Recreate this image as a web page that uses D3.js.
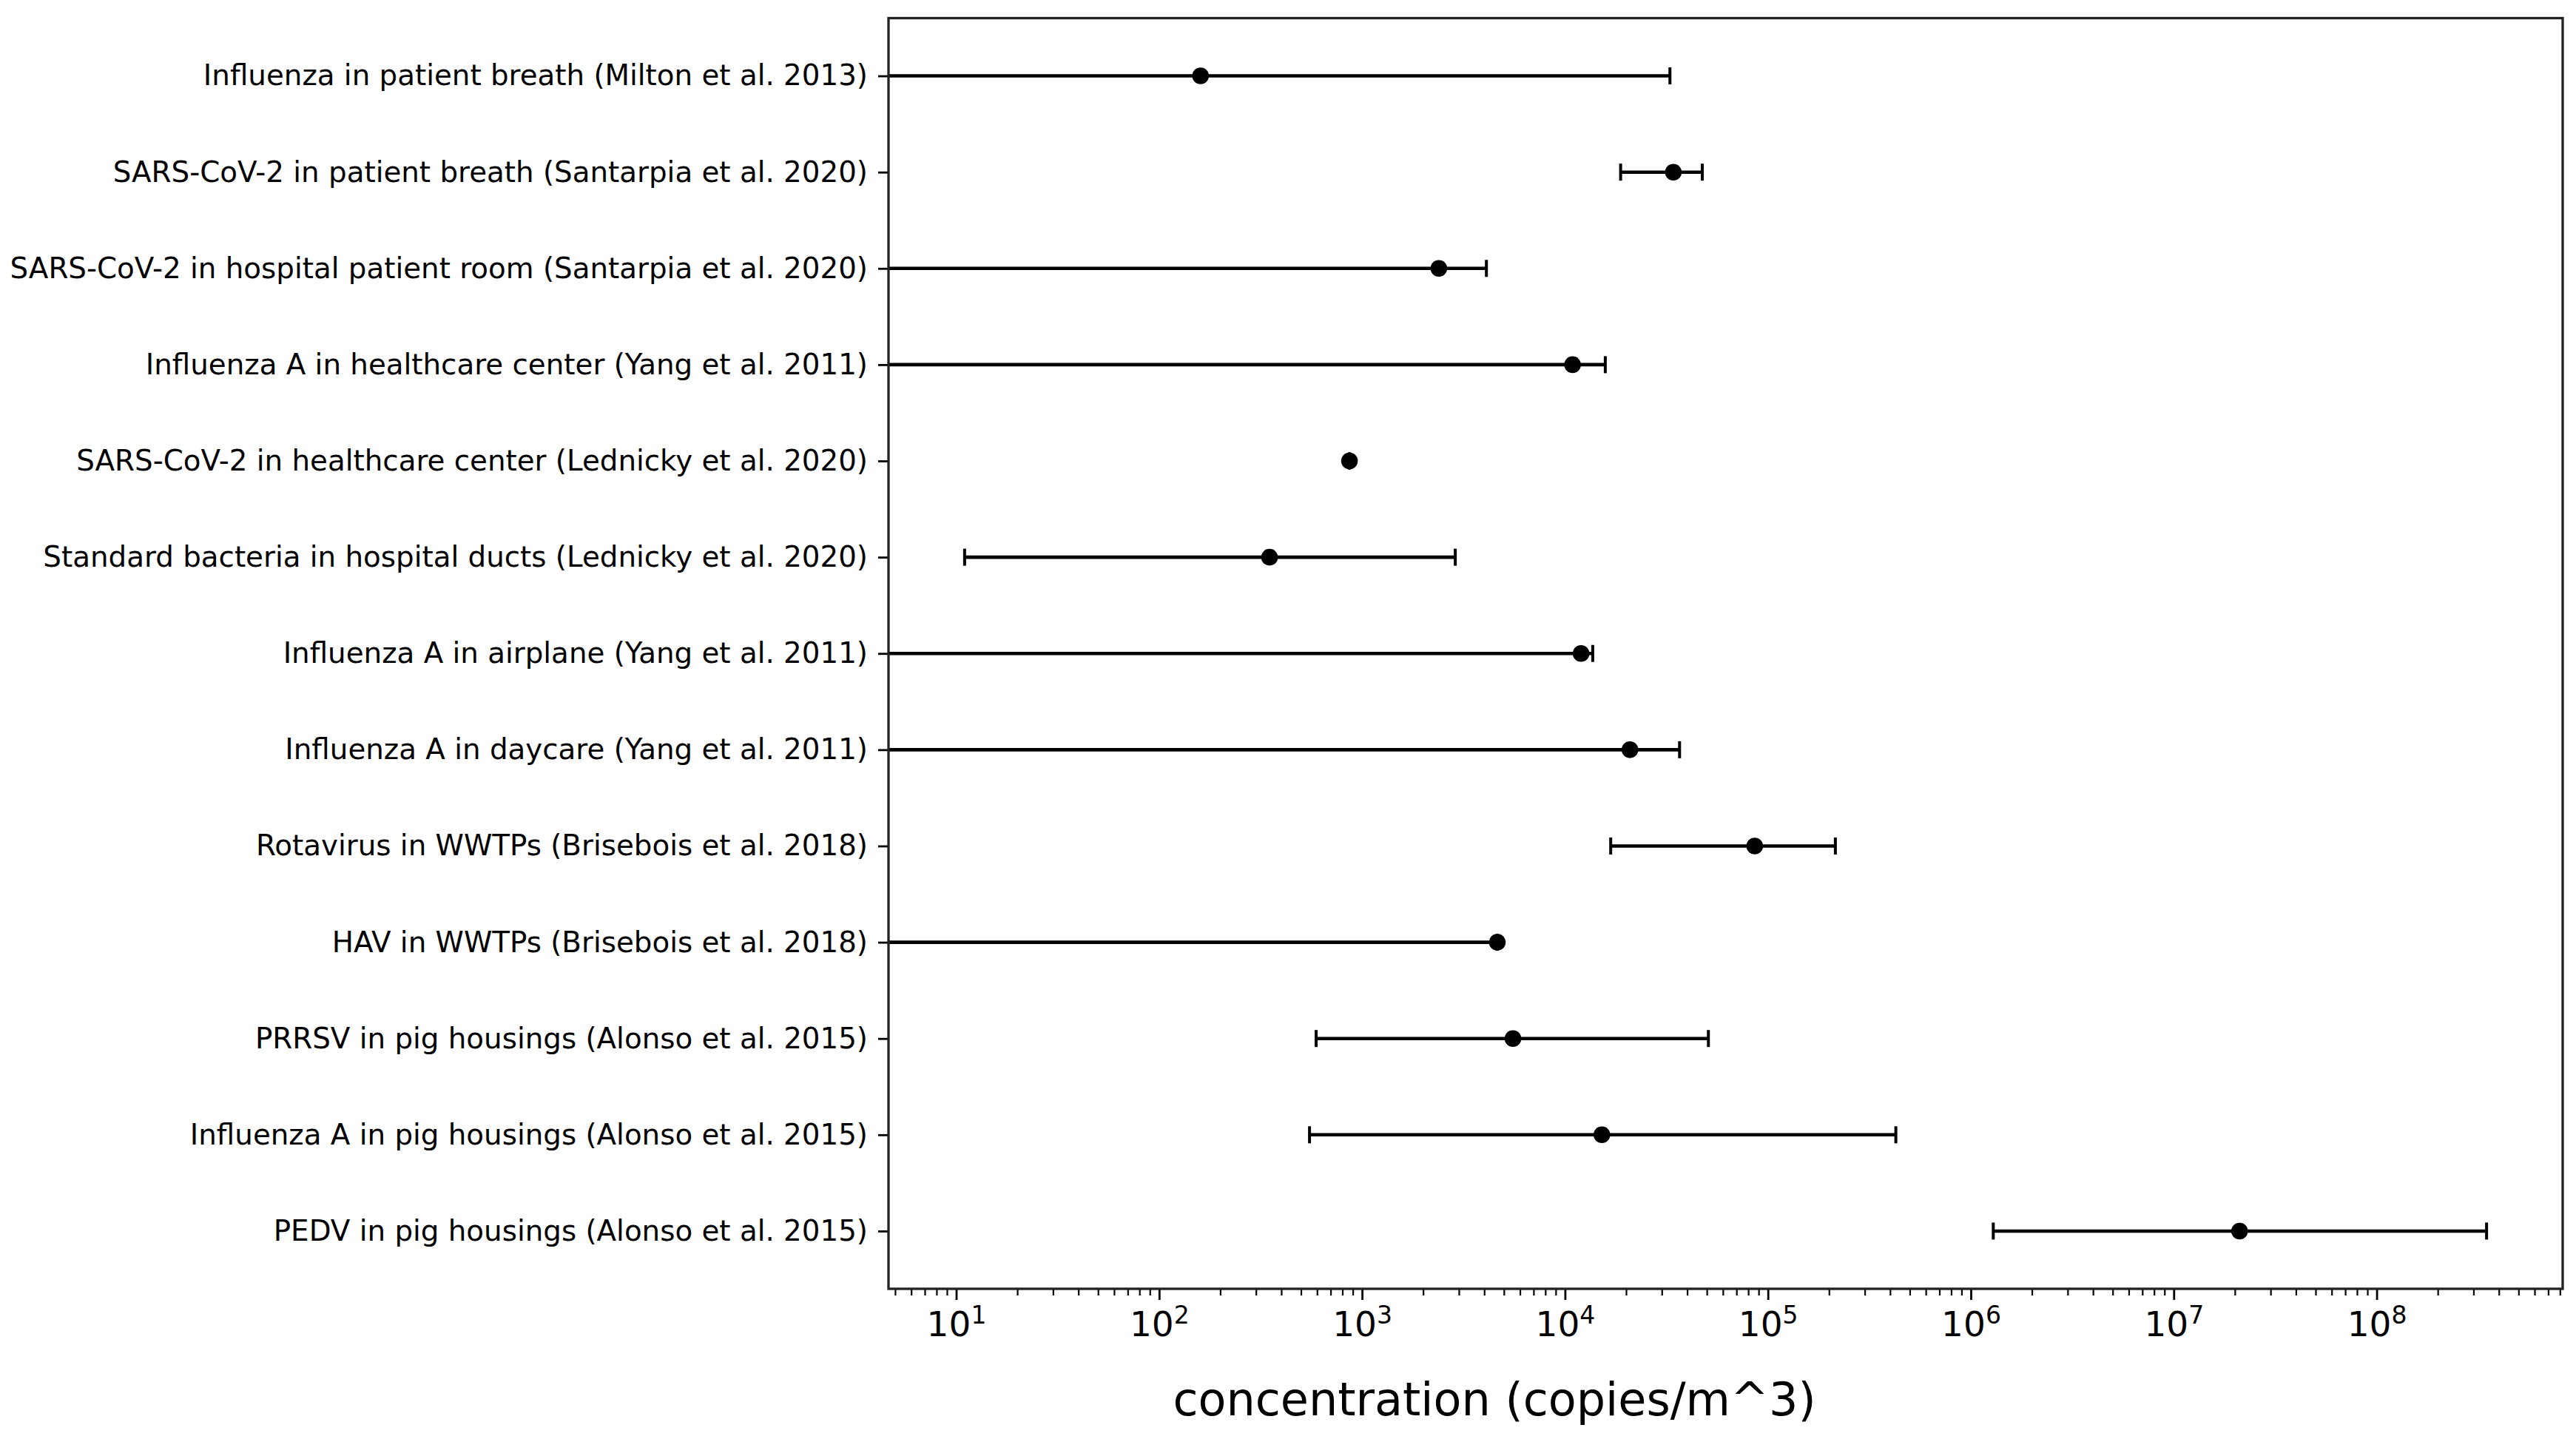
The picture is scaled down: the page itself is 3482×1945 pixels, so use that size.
<!DOCTYPE html>
<html lang="en">
	<head>
		<meta charset="UTF-8">
		<title>Airborne concentrations</title>
		<script src="https://d3js.org/d3.v7.min.js"></script>
		<style>
			body { margin: 0; background: #fff; }
			text { font-family: "DejaVu Sans", sans-serif; fill: #000; }
		</style>
	</head>
	<body>
		<div id="chart"></div>

		<script type="text/javascript">
			// Categories, top to bottom
			const labels = [
				'Influenza in patient breath (Milton et al. 2013)',
				'SARS-CoV-2 in patient breath (Santarpia et al. 2020)',
				'SARS-CoV-2 in hospital patient room (Santarpia et al. 2020)',
				'Influenza A in healthcare center (Yang et al. 2011)',
				'SARS-CoV-2 in healthcare center (Lednicky et al. 2020)',
				'Standard bacteria in hospital ducts (Lednicky et al. 2020)',
				'Influenza A in airplane (Yang et al. 2011)',
				'Influenza A in daycare (Yang et al. 2011)',
				'Rotavirus in WWTPs (Brisebois et al. 2018)',
				'HAV in WWTPs (Brisebois et al. 2018)',
				'PRRSV in pig housings (Alonso et al. 2015)',
				'Influenza A in pig housings (Alonso et al. 2015)',
				'PEDV in pig housings (Alonso et al. 2015)'
			];

			// central values (copies/m^3)
			const centers = [160, 34200, 2390, 10900, 867, 350, 12000, 20900, 86100, 4640, 5540, 15200, 2.11e7];
			// lower ends, null = error bar runs off the left of the axis
			const lowers = [null, 18800, null, null, 867, 11, null, null, 16800, null, 594, 551, 1.29e6];
			const uppers = [32900, 47500, 4100, 15800, 867, 2880, 13700, 36700, 215000, 4640, 50900, 427000, 3.48e8];

			const majorTicks = [1e1, 1e2, 1e3, 1e4, 1e5, 1e6, 1e7, 1e8];
			const exponents = ['1', '2', '3', '4', '5', '6', '7', '8'];

			const W = 3482, H = 1945;
			const margin = { top: 24.5, right: 18, bottom: 203, left: 1201 };

			const svg = d3.select('#chart')
				.append('svg')
				.attr('width', W)
				.attr('height', H);

			svg.append('rect').attr('width', W).attr('height', H).attr('fill', '#fff');

			// log x with 5% padding like matplotlib autoscale
			const positives = centers.concat(lowers.filter(d => d != null), uppers).filter(d => d > 0);
			const lo = Math.log10(d3.min(positives)), hi = Math.log10(d3.max(positives));
			const pad = (hi - lo) * 0.05;

			const x = d3.scaleLog()
				.domain([Math.pow(10, lo - pad), Math.pow(10, hi + pad)])
				.range([margin.left, W - margin.right]);

			const y = d3.scalePoint()
				.domain(labels)
				.range([margin.top, H - margin.bottom])
				.padding(0.6);

			const bottomY = H - margin.bottom;

			// minor ticks
			const minorTicks = [];
			const [d0, d1] = x.domain();
			for (let e = Math.floor(Math.log10(d0)); e <= Math.ceil(Math.log10(d1)); e++) {
				for (let m = 2; m <= 9; m++) {
					const v = m * Math.pow(10, e);
					if (v >= d0 && v <= d1) minorTicks.push(v);
				}
			}

			const minorAxis = svg.append('g')
				.attr('transform', `translate(0,${bottomY})`)
				.call(d3.axisBottom(x).tickValues(minorTicks).tickSize(9).tickFormat(''));
			minorAxis.select('.domain').remove();
			minorAxis.selectAll('line').attr('stroke', '#000').attr('stroke-width', 2.2);

			const xAxis = svg.append('g')
				.attr('transform', `translate(0,${bottomY})`)
				.call(d3.axisBottom(x).tickValues(majorTicks).tickSize(15).tickPadding(14).tickFormat(''));
			xAxis.select('.domain').remove();
			xAxis.selectAll('line').attr('stroke', '#000').attr('stroke-width', 2.8);
			xAxis.selectAll('.tick text')
				.attr('font-size', 47)
				.attr('dy', '0.74em')
				.each(function(d, i) {
					const t = d3.select(this);
					t.append('tspan').text('10');
					t.append('tspan').attr('dy', -17).attr('font-size', 33).text(exponents[i]);
				});

			const yAxis = svg.append('g')
				.attr('transform', `translate(${margin.left},0)`)
				.call(d3.axisLeft(y).tickSize(14).tickPadding(14));
			yAxis.select('.domain').remove();
			yAxis.selectAll('line').attr('stroke', '#000').attr('stroke-width', 2.8);
			yAxis.selectAll('text').attr('font-size', 38.8);

			// error bars
			const rows = labels.map((l, i) => ({ label: l, c: centers[i], lo: lowers[i], hi: uppers[i] }));
			const plot = svg.append('g');
			const capHalf = 11.5;

			plot.selectAll('line.bar')
				.data(rows)
				.enter()
				.append('line')
				.attr('class', 'bar')
				.attr('x1', d => d.lo == null ? x.range()[0] : x(d.lo))
				.attr('x2', d => x(d.hi))
				.attr('y1', d => y(d.label))
				.attr('y2', d => y(d.label))
				.attr('stroke', '#000')
				.attr('stroke-width', 4.6);

			const caps = [];
			rows.forEach(d => {
				if (d.lo != null) caps.push({ label: d.label, v: d.lo });
				caps.push({ label: d.label, v: d.hi });
			});

			plot.selectAll('line.cap')
				.data(caps)
				.enter()
				.append('line')
				.attr('class', 'cap')
				.attr('x1', d => x(d.v))
				.attr('x2', d => x(d.v))
				.attr('y1', d => y(d.label) - capHalf)
				.attr('y2', d => y(d.label) + capHalf)
				.attr('stroke', '#000')
				.attr('stroke-width', 4);

			plot.selectAll('circle')
				.data(rows)
				.enter()
				.append('circle')
				.attr('cx', d => x(d.c))
				.attr('cy', d => y(d.label))
				.attr('r', 11.3)
				.attr('fill', '#000');

			// frame
			svg.append('rect')
				.attr('x', margin.left)
				.attr('y', margin.top)
				.attr('width', W - margin.right - margin.left)
				.attr('height', bottomY - margin.top)
				.attr('fill', 'none')
				.attr('stroke', '#222')
				.attr('stroke-width', 3.3);

			svg.append('text')
				.attr('x', 2020)
				.attr('y', 1913)
				.attr('text-anchor', 'middle')
				.attr('font-size', 62)
				.text('concentration (copies/m^3)');
		</script>
	</body>
</html>
